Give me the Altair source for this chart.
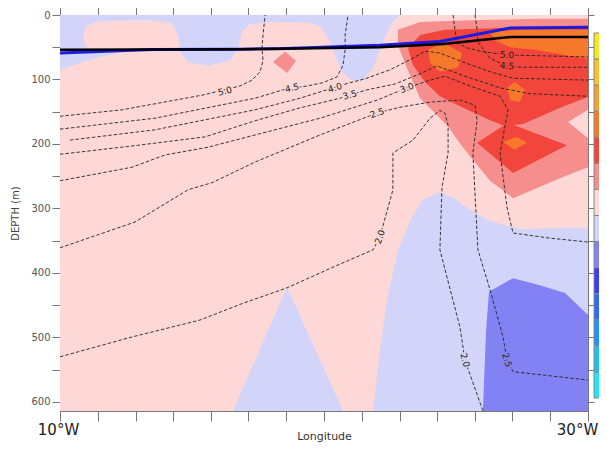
import altair as alt
import pandas as pd

# ---------------- filled contour regions (longitude °W, depth m) ----------------
bg_lon = [10, 30, 30, 10]
bg_dep = [0, 0, 614, 614]

lav_top_lon = [10, 22.88, 22.61, 22.35, 22.12, 21.86, 21.44, 21.06, 20.68, 20.45, 20.19, 19.92, 19.47, 17.95,
               17.20, 16.89, 16.74, 16.44, 15.61, 14.85, 14.55, 14.47, 14.24, 13.41, 11.52, 11.02, 10.87, 10.95,
               11.21, 12.46, 11.52, 10.76, 10]
lav_top_dep = [0, 0, 11, 31, 54, 82, 102, 101, 88, 67, 39, 19, 12, 11,
               14, 26, 54, 70, 79, 73, 57, 31, 12, 8, 9, 16, 31, 48,
               54, 56, 65, 74, 85]

lav_tri_lon = [16.55, 18.60, 20.72]
lav_tri_dep = [614, 422, 614]

lav_right_lon = [21.86, 22.12, 22.39, 22.80, 23.30, 23.75, 24.39, 24.96, 25.45, 26.17, 27.42, 30, 30]
lav_right_dep = [614, 519, 442, 364, 316, 287, 275, 285, 300, 318, 332, 330, 614]

blue_lon = [26.02, 26.14, 26.25, 27.16, 28.18, 29.13, 30, 30]
blue_dep = [614, 488, 429, 408, 419, 431, 465, 614]

sal_lon = [22.80, 23.64, 25.53, 28.18, 30, 30, 29.24, 30, 30, 29.05, 27.16, 26.29, 25.27, 24.66, 23.64, 23.14, 22.80]
sal_dep = [23, 11, 8, 6, 6, 147, 166, 191, 236, 251, 284, 257, 206, 171, 129, 82, 47]

sal_blob_lon = [18.07, 18.52, 18.94, 18.60]
sal_blob_dep = [73, 57, 71, 90]

red_top_lon = [23.18, 23.64, 24.58, 26.67, 30, 30, 28.94, 27.54, 26.86, 26.29, 25.27, 24.39, 23.83, 23.37]
red_top_dep = [51, 31, 23, 20, 20, 127, 144, 169, 172, 163, 144, 126, 104, 78]

red_dia_lon = [25.80, 26.97, 29.20, 27.16]
red_dia_dep = [198, 167, 202, 245]

org_top_lon = [26.29, 27.42, 30, 30, 29.13, 27.99, 27.05, 26.48]
org_top_dep = [26, 23, 23, 68, 62, 54, 50, 39]

org_b1_lon = [23.94, 24.51, 25.23, 25.08, 24.39, 24.02]
org_b1_dep = [54, 43, 59, 81, 88, 74]

org_b2_lon = [26.93, 27.23, 27.61, 27.42, 27.05]
org_b2_dep = [113, 104, 116, 135, 132]

org_b3_lon = [26.78, 27.31, 27.69, 27.23]
org_b3_dep = [197, 189, 198, 209]

regions = [
    ("bg", 0.5, bg_lon, bg_dep),
    ("lav_top", -0.5, lav_top_lon, lav_top_dep),
    ("lav_tri", -0.5, lav_tri_lon, lav_tri_dep),
    ("lav_right", -0.5, lav_right_lon, lav_right_dep),
    ("blue", -1.5, blue_lon, blue_dep),
    ("sal", 1.5, sal_lon, sal_dep),
    ("sal_blob", 1.5, sal_blob_lon, sal_blob_dep),
    ("red_top", 2.5, red_top_lon, red_top_dep),
    ("red_dia", 2.5, red_dia_lon, red_dia_dep),
    ("org_top", 3.5, org_top_lon, org_top_dep),
    ("org_b1", 3.5, org_b1_lon, org_b1_dep),
    ("org_b2", 3.5, org_b2_lon, org_b2_dep),
    ("org_b3", 3.5, org_b3_lon, org_b3_dep),
]
draw_levels = [0.5, -0.5, -1.5, 1.5, 2.5, 3.5]

# colour bar (threshold scale)
thresholds = [-6, -5, -4, -3, -2, -1, 0, 1, 2, 3, 4, 5, 6]
bar_colors = ["#1ee6f5", "#1ec0f0", "#1e96f0", "#2d6cf0", "#3c3cf0", "#8282f5", "#d2d4fa",
              "#fdd8d6", "#f58e8c", "#f2463c", "#f6782a", "#fa9e2c", "#fcc228", "#f8e81e"]

# ---------------- thick lines ----------------
blue_line_lon = [10, 13.5, 16.82, 18.3, 22.12, 24.39, 27.05, 30]
blue_line_dep = [59, 53.5, 53, 52.2, 47, 41, 20, 19]
black_line_lon = [10, 16.82, 18.3, 22.12, 24.51, 27.05, 30]
black_line_dep = [54, 53, 52.2, 50, 45, 34, 34]

# ---------------- dashed contours ----------------
c50a_lon = [10, 12.35, 15.42, 16.82, 17.27, 17.58, 17.69, 17.65, 17.69, 17.77]
c50a_dep = [157, 147, 124, 110, 101, 88, 70, 51, 31, 0]
c45a_lon = [10, 13.60, 17.39, 18.45, 19.36, 19.96, 20.49, 20.72, 20.80, 20.80, 20.91]
c45a_dep = [177, 160, 129, 116, 110, 105, 96, 78, 54, 31, 0]
c40_lon = [10.38, 13.60, 17.39, 19.09, 20.11, 20.98, 21.55, 22.50, 23.37, 23.83, 24.39, 25.27, 26.29, 27.16, 30]
c40_dep = [194, 178, 147, 129, 116, 105, 99, 85, 67, 56, 59, 73, 88, 98, 101]
c35_lon = [10, 12.95, 15.49, 17.39, 19.09, 20.61, 21.63, 22.69, 23.64, 24.28, 25.42, 26.67, 27.80, 30]
c35_dep = [216, 202, 189, 164, 144, 129, 116, 107, 91, 79, 96, 113, 122, 126]
c30_lon = [10, 12.73, 13.98, 15.61, 17.39, 19.85, 22.01, 23.14, 24.02, 24.58, 25.53, 26.67, 26.97, 26.67,
           26.93, 27.16, 28.56, 30]
c30_dep = [257, 236, 217, 205, 186, 160, 132, 113, 101, 95, 110, 126, 147, 214, 298, 338, 346, 352]
c25_lon = [10, 12.84, 14.85, 15.76, 17.39, 19.85, 22.01, 22.88, 24.02, 25.15, 25.72, 25.80, 25.64, 25.83,
           26.29, 26.78, 26.93, 27.16, 30]
c25_dep = [361, 321, 271, 260, 228, 186, 152, 143, 135, 132, 140, 163, 214, 364, 426, 499, 535, 553, 566]
c20_lon = [10, 12.65, 15.30, 16.93, 18.60, 20.34, 21.86, 22.12, 22.61, 22.61, 23.37, 24.02, 24.39, 24.58,
           24.70, 24.70, 24.47, 24.39, 25.15, 25.34, 26.02]
c20_dep = [530, 500, 473, 447, 423, 391, 364, 344, 271, 214, 194, 160, 148, 152, 171, 214, 267, 364, 484, 535, 614]
c50b_lon = [24.89, 24.96, 25.04, 25.42, 25.91, 26.40, 26.93, 30]
c50b_dep = [0, 23, 43, 51, 56, 59, 62, 65]
c45b_lon = [25.72, 25.80, 25.83, 26.29, 26.93, 27.42, 30]
c45b_dep = [0, 23, 42, 67, 79, 81, 81]

contours = [("c50a", c50a_lon, c50a_dep), ("c45a", c45a_lon, c45a_dep), ("c40", c40_lon, c40_dep),
            ("c35", c35_lon, c35_dep), ("c30", c30_lon, c30_dep), ("c25", c25_lon, c25_dep),
            ("c20", c20_lon, c20_dep), ("c50b", c50b_lon, c50b_dep), ("c45b", c45b_lon, c45b_dep)]

lab_text = ["5.0", "4.5", "4.0", "3.5", "3.0", "2.5", "5.0", "4.5", "2.0", "2.0", "2.5"]
lab_lon = [16.25, 18.79, 20.42, 20.98, 23.14, 22.01, 26.93, 26.93, 22.12, 25.34, 26.93]
lab_dep = [118, 113, 113, 124, 113, 152, 62, 79, 344, 535, 535]
lab_ang = [346, 347, 343, 344, 339, 341, 3, 3, 288, 75, 74]
lab_halo = ["#fdd8d6", "#fdd8d6", "#fdd8d6", "#fdd8d6", "#fdd8d6", "#fdd8d6",
            "#f2463c", "#f2463c", "#fdd8d6", "#d2d4fa", "#8282f5"]

# tick values
x_ticks = [10, 11.43, 12.86, 14.29, 15.71, 17.14, 18.57, 20, 21.43, 22.86, 24.29, 25.71, 27.14, 28.57, 30]
y_ticks = [0, 50, 100, 150, 200, 250, 300, 350, 400, 450, 500, 550, 600]

# ---------------- build tables ----------------
rows = []
for name, lvl, lons, deps in regions:
    for k, (a, b) in enumerate(zip(lons, deps)):
        rows.append({"region": name, "level": lvl, "lon": a, "depth": b, "k": k})
poly = pd.DataFrame(rows)

crow = []
for name, lons, deps in contours:
    for k, (a, b) in enumerate(zip(lons, deps)):
        crow.append({"line": name, "lon": a, "depth": b, "k": k})
cont = pd.DataFrame(crow)

blue_df = pd.DataFrame({"lon": blue_line_lon, "depth": blue_line_dep})
black_df = pd.DataFrame({"lon": black_line_lon, "depth": black_line_dep})
labels_df = pd.DataFrame({"t": lab_text, "lon": lab_lon, "depth": lab_dep, "ang": lab_ang, "halo": lab_halo})

FONT = "DejaVu Sans"
xscale = alt.Scale(domain=[10, 30], nice=False, zero=False)
yscale = alt.Scale(domain=[0, 614], nice=False, zero=False, reverse=True)

x_bottom = alt.Axis(orient="bottom", values=x_ticks, tickSize=10, labelFontSize=15, labelFont=FONT,
                    labelColor="#222", labelPadding=1, labelFlush=False, grid=False,
                    labelOffset={"condition": {"test": "datum.value == 30", "value": -11}, "value": -2},
                    domainColor="#777", tickColor="#777",
                    labelExpr="datum.value == 10 ? '10°W' : (datum.value == 30 ? '30°W' : '')",
                    title="Longitude", titleFont=FONT, titleFontSize=11, titleFontWeight="normal",
                    titleColor="#333", titleY=19, titleBaseline="top")
y_left = alt.Axis(orient="left", values=y_ticks, tickSize=8, labelFontSize=10, labelFont=FONT,
                  labelColor="#555", labelPadding=2, grid=False, domainColor="#777", tickColor="#777",
                  labelExpr="datum.value % 100 == 0 ? datum.label : ''",
                  title="DEPTH (m)", titleFont=FONT, titleFontSize=10, titleFontWeight="normal",
                  titleColor="#444", titleX=-40, titleY=198, titleBaseline="bottom", titleAngle=270)
x_top = alt.Axis(orient="top", values=x_ticks, tickSize=10, labels=False, title=None, grid=False,
                 domainColor="#777", tickColor="#777")
y_right = alt.Axis(orient="right", values=y_ticks, tickSize=6, labels=False, title=None, grid=False,
                   domainColor="#777", tickColor="#777")

fill_enc = alt.Fill("level:Q", scale=alt.Scale(type="threshold", domain=thresholds, range=bar_colors),
                    legend=alt.Legend(type="gradient", orient="none", legendX=534, legendY=18,
                                      direction="vertical", gradientLength=365, gradientThickness=14,
                                      title=None, gradientStrokeColor="#888", gradientStrokeWidth=1,
                                      labelExpr="''"))

layers = []
for i, lvl in enumerate(draw_levels):
    sub = poly[poly["level"] == lvl]
    layers.append(
        alt.Chart(sub).mark_line(interpolate="linear-closed", filled=True, strokeWidth=0).encode(
            x=alt.X("lon:Q", scale=xscale, axis=x_bottom if i == 0 else None),
            y=alt.Y("depth:Q", scale=yscale, axis=y_left if i == 0 else None),
            fill=fill_enc,
            detail="region:N",
            order="k:Q",
        )
    )

contour_layer = alt.Chart(cont).mark_line(color="#222", strokeWidth=0.9, strokeDash=[3.5, 2]).encode(
    x=alt.X("lon:Q", scale=xscale, axis=None),
    y=alt.Y("depth:Q", scale=yscale, axis=None),
    detail="line:N",
    order="k:Q",
)

halo_layer = alt.Chart(labels_df).mark_text(font=FONT, fontSize=9, strokeWidth=3).encode(
    x=alt.X("lon:Q", scale=xscale, axis=None),
    y=alt.Y("depth:Q", scale=yscale, axis=None),
    text="t:N",
    angle=alt.Angle("ang:Q", scale=None),
    color=alt.Color("halo:N", scale=None),
    stroke=alt.Stroke("halo:N", scale=None),
)

label_layer = alt.Chart(labels_df).mark_text(font=FONT, fontSize=9, color="#222").encode(
    x=alt.X("lon:Q", scale=xscale, axis=None),
    y=alt.Y("depth:Q", scale=yscale, axis=None),
    text="t:N",
    angle=alt.Angle("ang:Q", scale=None),
)

blue_layer = alt.Chart(blue_df).mark_line(color="#1a1ae0", strokeWidth=3).encode(
    x=alt.X("lon:Q", scale=xscale, axis=None),
    y=alt.Y("depth:Q", scale=yscale, axis=None),
)
black_layer = alt.Chart(black_df).mark_line(color="#000000", strokeWidth=2.5).encode(
    x=alt.X("lon:Q", scale=xscale, axis=x_top),
    y=alt.Y("depth:Q", scale=yscale, axis=y_right),
)

chart = alt.layer(*layers, contour_layer, halo_layer, label_layer, blue_layer, black_layer).resolve_axis(
    x="independent", y="independent"
).properties(
    width=528, height=396,
    autosize=alt.AutoSizeParams(type="none"),
    padding={"left": 52, "top": 7, "right": 11, "bottom": 31},
).configure_view(stroke=None)

chart.save("out.html", embed_options={"renderer": "svg", "actions": False})
